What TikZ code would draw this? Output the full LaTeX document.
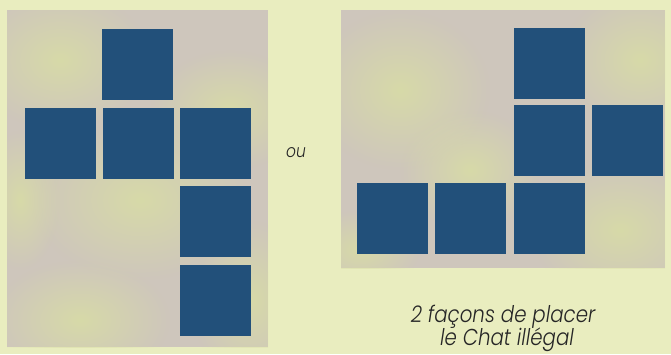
\documentclass[tikz,border=0pt]{standalone}
\usepackage{fontspec}
\setmainfont{Poppins Light}[FakeStretch=0.86]
\usetikzlibrary{fadings}
\definecolor{bgc}{HTML}{E9EDBF}
\definecolor{panelc}{HTML}{CEC6BC}
\definecolor{greenc}{HTML}{D8DCA6}
\definecolor{sqc}{HTML}{22507A}
\definecolor{txtc}{HTML}{262626}
\tikzfading[name=softc, inner color=transparent!10, outer color=transparent!100]
\tikzset{
  sq/.style={fill=sqc, draw=none, minimum size=71pt, inner sep=0pt, outer sep=0pt},
  blob/.style={fill=greenc, path fading=softc},
  lbl/.style={text=txtc, font=\itshape, inner sep=0pt, anchor=base}
}
\begin{document}
\begin{tikzpicture}[x=1pt,y=-1pt]
\fill[bgc] (0,0) rectangle (671,354);
\useasboundingbox (0,0) rectangle (671,354);
% left panel
\fill[panelc] (7,10) rectangle (268,347);
\begin{scope}
\clip (7,10) rectangle (268,347);
\fill[blob] (60,60) ellipse (90 and 70);
\fill[blob] (140,200) ellipse (110 and 80);
\fill[blob] (230,110) ellipse (80 and 60);
\fill[blob] (80,320) ellipse (90 and 60);
\fill[blob] (250,300) ellipse (60 and 80);
\fill[blob] (20,200) ellipse (40 and 70);
\end{scope}
% right panel
\fill[panelc] (341,10) rectangle (665,268);
\begin{scope}
\clip (341,10) rectangle (665,268);
\fill[blob] (400,90) ellipse (90 and 80);
\fill[blob] (640,60) ellipse (80 and 70);
\fill[blob] (620,230) ellipse (90 and 70);
\fill[blob] (470,170) ellipse (70 and 60);
\fill[blob] (360,250) ellipse (60 and 40);
\end{scope}
% left squares
\node[sq] (l1) at (137.5,64.5) {};
\node[sq] (l2) at (60.5,143.5) {};
\node[sq] (l3) at (138,143.5) {};
\node[sq] (l4) at (215.5,143.5) {};
\node[sq] (l5) at (215.5,221.5) {};
\node[sq] (l6) at (215.5,300.5) {};
% right squares
\node[sq] (r1) at (549.5,63.5) {};
\node[sq] (r2) at (549.5,140.5) {};
\node[sq] (r3) at (627,140.5) {};
\node[sq] (r4) at (392.5,218) {};
\node[sq] (r5) at (470.5,218) {};
\node[sq] (r6) at (549.5,218) {};
% labels
\node[lbl, font=\itshape\fontsize{18}{18}\selectfont] (ou) at (296,157) {ou};
\node[lbl, font=\itshape\fontsize{23}{23}\selectfont] (c1) at (503,322) {2 façons de placer};
\node[lbl, font=\itshape\fontsize{23}{23}\selectfont] (c2) at (507,345) {le Chat illégal};
\end{tikzpicture}
\end{document}
